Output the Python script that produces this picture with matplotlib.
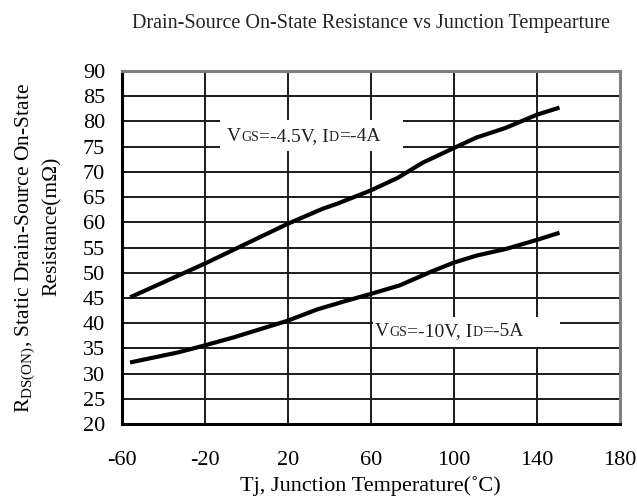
import matplotlib
matplotlib.use("Agg")
import matplotlib.pyplot as plt
from matplotlib.patches import Rectangle
from matplotlib.offsetbox import TextArea, HPacker, AnnotationBbox

plt.rcParams["font.family"] = ["Liberation Serif", "DejaVu Serif"]
plt.rcParams["mathtext.fontset"] = "custom"
plt.rcParams["mathtext.rm"] = "Liberation Serif"
plt.rcParams["axes.unicode_minus"] = False

# readings (Tj in degC, Rds(on) in mOhm)
temp_45 = [-55, -20, 20, 37, 44, 60, 73, 85, 100, 111, 125, 140, 150]
rds_45 = [45.3, 51.8, 59.7, 62.7, 63.7, 66.3, 68.8, 71.8, 74.7, 76.8, 78.7, 81.3, 82.6]

temp_10 = [-55, -33, -20, -6, 20, 34, 47, 60, 74, 89, 100, 111, 125, 140, 150]
rds_10 = [32.3, 34.2, 35.6, 37.2, 40.5, 42.7, 44.3, 45.8, 47.5, 50.2, 52.0, 53.4, 54.7, 56.5, 57.8]

x_ticks = [-60, -20, 20, 60, 100, 140, 180]
y_ticks = list(range(20, 95, 5))

fig = plt.figure(figsize=(6.37, 4.99), dpi=100)
ax = fig.add_axes([0.191, 0.150, 0.782, 0.708])

ax.plot(temp_45, rds_45, color="black", lw=3.0, zorder=3)
ax.plot(temp_10, rds_10, color="black", lw=3.0, zorder=3)

ax.set_xlim(-60, 180)
ax.set_ylim(20, 90)
ax.set_xticks(x_ticks)
ax.set_yticks(y_ticks)
ax.set_axisbelow(True)
ax.grid(True, color="#1a1a1a", lw=1.4)
ax.tick_params(length=0, labelsize=16)
ax.tick_params(axis="x", pad=19)
ax.tick_params(axis="y", pad=12)

for side in ["left", "bottom"]:
    ax.spines[side].set_color("black")
    ax.spines[side].set_linewidth(2.2)
for side in ["top", "right"]:
    ax.spines[side].set_color("#808080")
    ax.spines[side].set_linewidth(2.2)

# white label boxes break the grid like in the datasheet
ax.add_patch(Rectangle((-12.6, 74.1), 88.2, 6.15, facecolor="white",
                       edgecolor="none", zorder=1))
ax.add_patch(Rectangle((61.1, 35.3), 90.2, 5.9, facecolor="white",
                       edgecolor="none", zorder=1))


def cond_label(parts, xy):
    boxes = [TextArea(s, textprops=dict(fontsize=fs, color="#222222"))
             for s, fs in parts]
    pack = HPacker(children=boxes, align="baseline", pad=0, sep=0)
    ab = AnnotationBbox(pack, xy, xycoords="data", frameon=False,
                        box_alignment=(0, 0.5), pad=0, zorder=4)
    ax.add_artist(ab)


cond_label([("V", 14), ("GS", 10), ("=-4.5V, I", 14), ("D", 10), ("=-4A", 14)],
           (-9.2, 76.9))
cond_label([("V", 14), ("GS", 10), ("=-10V, I", 14), ("D", 10), ("=-5A", 14)],
           (62.1, 38.4))

ax.set_title("Drain-Source On-State Resistance vs Junction Tempearture",
             fontsize=14.5, pad=31, color="#222222")
ax.set_xlabel("Tj, Junction Temperature(\u02daC)", fontsize=16, labelpad=5)

fig.text(26 / 637, 1 - 248 / 499,
         r"R$_{\mathrm{DS(ON)}}$, Static Drain-Source On-State",
         rotation=90, fontsize=15.5, ha="center", va="center")
fig.text(52 / 637, 1 - 226 / 499, "Resistance(m\u03a9)",
         rotation=90, fontsize=15.5, ha="center", va="center")

fig.savefig("out.png", dpi=100)
